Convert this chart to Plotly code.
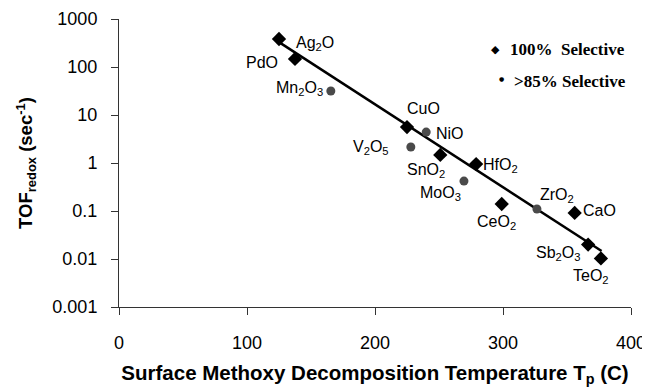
import plotly.graph_objects as go
import numpy as np

# 100% selective (diamonds)
sel100_names = ["Ag<sub>2</sub>O", "PdO", "CuO", "SnO<sub>2</sub>", "HfO<sub>2</sub>", "CeO<sub>2</sub>", "CaO", "Sb<sub>2</sub>O<sub>3</sub>", "TeO<sub>2</sub>"]
sel100_T = [125, 137.5, 225, 251, 279, 299, 356, 366.5, 376.5]
sel100_TOF = [383, 147, 5.6, 1.47, 0.95, 0.14, 0.091, 0.020, 0.0103]
sel100_dx = [36, -33, 16, -14, 24, -5, 25, -30, -10]
sel100_dy = [-4, -4, 19, -16, -1, -19, 2, -9, -18]

# >85% selective (dots)
sel85_names = ["Mn<sub>2</sub>O<sub>3</sub>", "NiO", "V<sub>2</sub>O<sub>5</sub>", "MoO<sub>3</sub>", "ZrO<sub>2</sub>"]
sel85_T = [165.5, 240, 228, 269.5, 326.5]
sel85_TOF = [31.6, 4.4, 2.15, 0.42, 0.11]
sel85_dx = [-31, 24, -40, -23, 20]
sel85_dy = [3, -1, 0, -12, 14]

# trend line endpoints
trend_T = [125, 377]
trend_TOF = [330, 0.0147]

x_ticks = [0, 100, 200, 300, 400]
y_ticks = [0.001, 0.01, 0.1, 1, 10, 100, 1000]
y_ticklabels = ["0.001", "0.01", "0.1", "1", "10", "100", "1000"]

legend_labels = ["100%&nbsp;&nbsp;Selective", "&gt;85% Selective"]

# page body has an 8px margin; figure sized so the plot area lands at
# window pixels x 119..631, y 19..307
OFF = 8
W, H = 650 - OFF, 387 - OFF
L, R, T, B = 119 - OFF, 19, 19 - OFF, 80
PW, PH = W - L - R, H - T - B

def px(x):  # window pixel -> paper x
    return (x - OFF - L) / PW

def py(y):  # window pixel -> paper y
    return 1 - (y - OFF - T) / PH

fig = go.Figure()
fig.add_trace(go.Scatter(x=trend_T, y=trend_TOF, mode="lines",
                         line=dict(color="black", width=2.5), showlegend=False, hoverinfo="skip"))
fig.add_trace(go.Scatter(x=sel100_T, y=sel100_TOF, mode="markers", name="100% Selective",
                         showlegend=False,
                         marker=dict(symbol="diamond", size=11, color="black")))
fig.add_trace(go.Scatter(x=sel85_T, y=sel85_TOF, mode="markers", name=">85% Selective",
                         showlegend=False,
                         marker=dict(symbol="circle", size=9, color="#4a4a4a")))

sans = "Liberation Sans, Arial, sans-serif"
serif = "Liberation Serif, Times New Roman, serif"
for names, xs, ys, dxs, dys in [(sel100_names, sel100_T, sel100_TOF, sel100_dx, sel100_dy),
                                (sel85_names, sel85_T, sel85_TOF, sel85_dx, sel85_dy)]:
    for n, x, y, dx, dy in zip(names, xs, ys, dxs, dys):
        fig.add_annotation(x=x, y=np.log10(y), text=n, showarrow=False,
                           xanchor="center", yanchor="middle",
                           xshift=dx, yshift=dy, font=dict(family=sans, size=16, color="black"))

# legend (drawn as annotations to match the reference layout)
fig.add_annotation(xref="paper", yref="paper", x=px(495), y=py(50), text="◆", showarrow=False,
                   xanchor="center", yanchor="middle",
                   font=dict(family="DejaVu Sans", size=11, color="black"))
fig.add_annotation(xref="paper", yref="paper", x=px(508), y=py(50), xanchor="left", yanchor="middle",
                   text="<b>" + legend_labels[0] + "</b>", showarrow=False,
                   font=dict(family=serif, size=17, color="black"))
fig.add_annotation(xref="paper", yref="paper", x=px(501), y=py(78), text="●", showarrow=False,
                   xanchor="center", yanchor="middle",
                   font=dict(family="DejaVu Sans", size=6, color="black"))
fig.add_annotation(xref="paper", yref="paper", x=px(512), y=py(81), xanchor="left", yanchor="middle",
                   text="<b>" + legend_labels[1] + "</b>", showarrow=False,
                   font=dict(family=serif, size=17, color="black"))

fig.update_layout(
    width=W, height=H,
    margin=dict(l=L, r=R, t=T, b=B),
    plot_bgcolor="white", paper_bgcolor="white",
    font=dict(family=sans, color="black"),
    showlegend=False,
)
fig.update_xaxes(range=[0, 400], tickvals=x_ticks, ticks="outside", ticklen=7, tickcolor="#333",
                 showline=True, linecolor="#333", linewidth=1, showgrid=False, zeroline=False,
                 tickfont=dict(size=18), ticklabelstandoff=12, automargin=False,
                 title=dict(text="<b>Surface Methoxy Decomposition Temperature T<sub>p</sub> (C)</b>",
                            font=dict(size=20.5), standoff=16))
fig.update_yaxes(type="log", range=[-3, 3], tickvals=y_ticks, ticktext=y_ticklabels,
                 ticks="outside", ticklen=7, tickcolor="#333",
                 showline=True, linecolor="#333", linewidth=1, showgrid=False, zeroline=False,
                 tickfont=dict(size=18), ticklabelstandoff=10, automargin=False,
                 title=dict(text="<b>TOF<sub>redox</sub> (sec<sup>-1</sup>)</b>", font=dict(size=18.5), standoff=14))

fig.write_html("out.html")
